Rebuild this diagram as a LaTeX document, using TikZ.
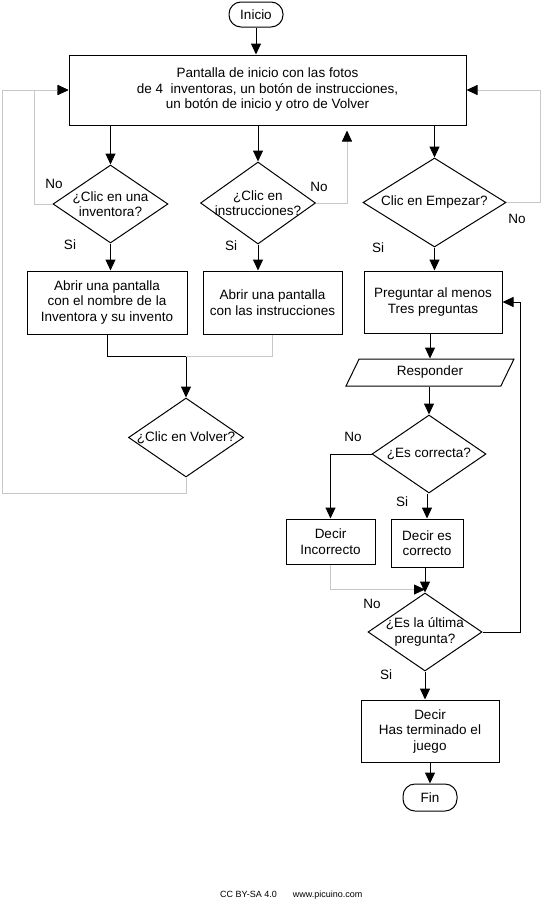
\documentclass[tikz,border=0pt]{standalone}
\usepackage{fontspec}
\setmainfont{Liberation Sans}
\usepackage{xcolor}
\usetikzlibrary{arrows.meta,positioning,shapes.geometric}
\definecolor{linegrey}{RGB}{200,200,200}

\begin{document}
\begin{tikzpicture}[
      x=1pt, y=-1pt,
      font=\fontsize{13.5}{15.5}\selectfont,
      proc/.style={draw, line width=1pt, inner sep=2pt, align=center},
      term/.style={draw, line width=1pt, rounded corners=12pt, inner sep=0pt, minimum width=54pt},
      dec/.style={diamond, draw, line width=1pt, inner sep=-25pt, align=center},
      io/.style={trapezium, trapezium left angle=64, trapezium right angle=116, draw, line width=1pt, inner sep=0pt, minimum height=27pt, minimum width=106pt},
      lbl/.style={inner sep=0pt},
      arr/.style={-{Triangle[length=11pt,width=10pt]}, line width=1pt},
      gpath/.style={draw=linegrey, line width=0.8pt},
      gline/.style={gpath, -{Triangle[length=11pt,width=10pt,color=black,fill=black]}}
    ]
      \useasboundingbox (0,0) rectangle (551,908);
      \node[term, minimum height=25pt] (inicio) at (256,14.5) {Inicio};
      \node[proc, minimum width=397pt, minimum height=70pt] (pant) at (267.5,90) {Pantalla de inicio con las fotos\\de 4~ inventoras, un botón de instrucciones,\\un botón de inicio y otro de Volver};
      \node[dec, minimum width=115pt, minimum height=78pt] (inv) at (110.5,204) {¿Clic en una\\inventora?};
      \node[dec, minimum width=115pt, minimum height=82pt] (ins) at (258,203) {¿Clic en\\instrucciones?};
      \node[dec, minimum width=143pt, minimum height=89pt] (emp) at (434.5,202.5) {Clic en Empezar?};
      \node[proc, minimum width=160pt, minimum height=63pt, below=27pt of inv, xshift=-3.5pt] (abrinv) {Abrir una pantalla\\con el nombre de la\\Inventora y su invento};
      \node[proc, minimum width=139pt, minimum height=63pt, below=26pt of ins, xshift=14.5pt] (abrins) {Abrir una pantalla\\con las instrucciones};
      \node[proc, minimum width=138pt, minimum height=62pt, below=23pt of emp, xshift=-1.5pt] (preg) {Preguntar al menos\\Tres preguntas};
      \node[dec, minimum width=115pt, minimum height=79pt] (volver) at (186,437.5) {¿Clic en Volver?};
      \node[io, below=25pt of preg, xshift=-3pt] (resp) {Responder};
      \node[dec, minimum width=114pt, minimum height=78pt, below=28pt of resp, xshift=-1pt] (corr) {¿Es correcta?};
      \node[proc, minimum width=72pt, minimum height=48pt, below=25pt of corr, xshift=-2pt] (bien) {Decir es\\correcto};
      \node[proc, minimum width=89pt, minimum height=45pt] (mal) at (330.5,541.5) {Decir\\Incorrecto};
      \node[dec, minimum width=114pt, minimum height=78pt, below=25pt of bien, xshift=-2pt] (ult) {¿Es la última\\pregunta?};
      \node[proc, minimum width=138pt, minimum height=62pt, below=28pt of ult, xshift=5pt] (termin) {Decir\\Has terminado el\\juego};
      \node[term, minimum height=27pt, below=21pt of termin] (fin) {Fin};

      \node[lbl] (no1) at (54,184) {No};
      \node[lbl] (si1) at (70,245) {Si};
      \node[lbl] (no2) at (319,187) {No};
      \node[lbl] (si2) at (231,246) {Si};
      \node[lbl] (no3) at (517,219) {No};
      \node[lbl] (si3) at (378,248) {Si};
      \node[lbl] (no4) at (353,437) {No};
      \node[lbl] (si4) at (402,502) {Si};
      \node[lbl] (no5) at (372,604) {No};
      \node[lbl] (si5) at (386,675) {Si};
      \node[lbl, anchor=west, font=\fontsize{9}{11}\selectfont] (cc) at (220,895) {CC BY-SA 4.0\hspace{16pt}www.picuino.com};

      \draw[arr] (inicio.south) -- (inicio.south |- pant.north);
      \draw[arr] (inv.north |- pant.south) -- (inv.north);
      \draw[arr] (ins.north |- pant.south) -- (ins.north);
      \draw[arr] (emp.north |- pant.south) -- (emp.north);
      \draw[arr] (inv.south) -- (inv.south |- abrinv.north);
      \draw[arr] (ins.south) -- (ins.south |- abrins.north);
      \draw[arr] (emp.south) -- (emp.south |- preg.north);
      \draw[arr] (abrinv.south) -- ++(0,22) coordinate (junta) -| (volver.north);
      \draw[gpath] (abrins.south) |- (junta -| volver.north);
      \draw[gline] (volver.south) -- ++(0,16) -- ++(-184,0) |- (pant.west);
      \draw[gline] (inv.west) -- ++(-18,0) |- (pant.west);
      \draw[gline] (ins.east) -| ([xshift=79.5pt, yshift=-5pt]pant.south);
      \draw[gline] (emp.east) -- ++(34,0) |- (pant.east);
      \draw[arr] (resp.north |- preg.south) -- (resp.north);
      \draw[arr] (corr.north |- resp.south) -- (corr.north);
      \draw[arr] (corr.west) -| (mal.north);
      \draw[arr] (bien.north |- corr.south) -- (bien.north);
      \draw[gline] (mal.south) |- ([yshift=3pt]ult.north);
      \draw[arr] (ult.north |- bien.south) -- (ult.north);
      \draw[arr] (ult.east) -- ++(38,0) |- (preg.east);
      \draw[arr] (ult.south) -- (ult.south |- termin.north);
      \draw[arr] (termin.south) -- (fin.north);
    \end{tikzpicture}
\end{document}
